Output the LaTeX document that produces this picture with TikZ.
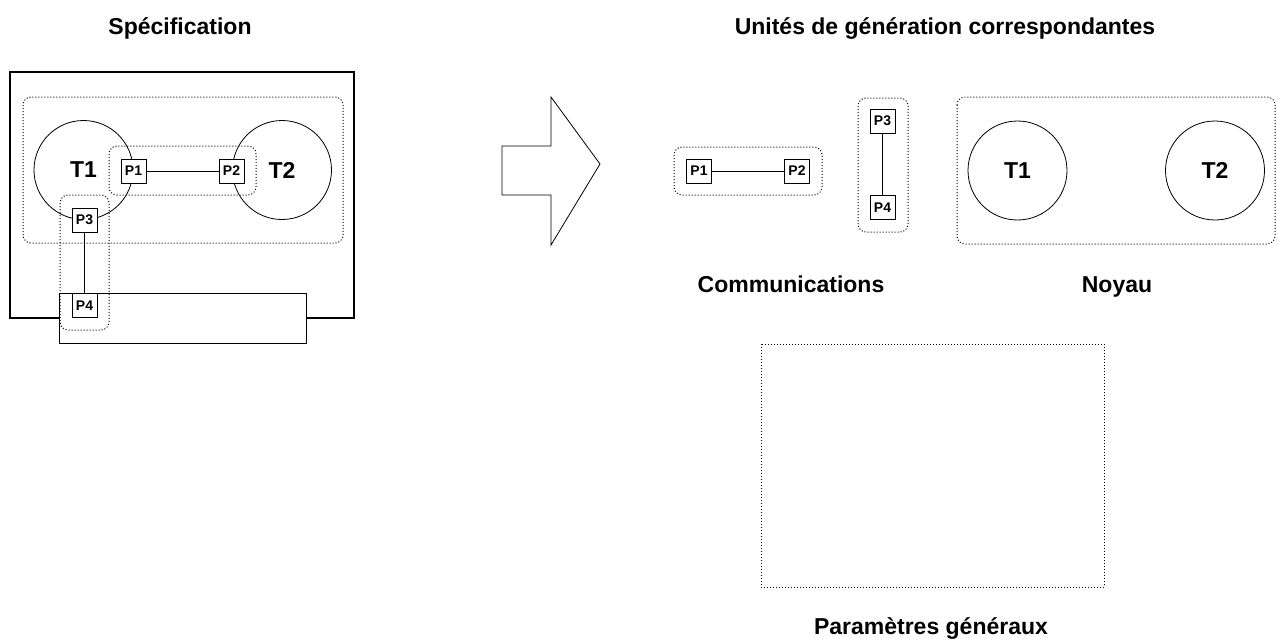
\documentclass[tikz,border=0pt]{standalone}
\usepackage{fontspec}
\setmainfont{Liberation Sans}
\begin{document}
\begin{tikzpicture}[x=1pt,y=-1pt,
  thinline/.style={line width=0.8pt},
  dotbox/.style={draw, line width=1pt, dash pattern=on 1pt off 2pt, rounded corners=8pt},
  port/.style={draw, fill=white, line width=0.8pt, minimum width=25pt, minimum height=24pt, inner sep=0pt, font=\fontsize{14}{14}\selectfont\bfseries},
  task/.style={draw, circle, line width=0.8pt, minimum size=99pt, inner sep=0pt, font=\fontsize{23}{23}\selectfont\bfseries},
  title/.style={font=\fontsize{23}{23}\selectfont\bfseries, inner sep=0pt, anchor=base}]
\useasboundingbox (0,0) rectangle (1278,638);

% ---- Specification (left) ----
\node[title] (tspec) at (180,34) {Spécification};
\draw[line width=2.5pt] (10,72) rectangle (354,318);
\draw[dotbox] (23,97) rectangle (343,243);
\node[task] (lT1) at (83.5,170) {T1};
\node[task] (lT2) at (282,170) {T2};
\draw[dotbox] (109,146) rectangle (256,195);
\node[draw, fill=white, line width=0.8pt, minimum width=247pt, minimum height=50pt, inner sep=0pt] (env) at (182.5,318) {};
\draw[dotbox] (60,195) rectangle (109,330);
\node[port] (lP1) at (133.5,171) {P1};
\node[port] (lP2) at (231.5,171) {P2};
\node[port] (lP3) at (84.5,220) {P3};
\node[port] (lP4) at (84.5,305.5) {P4};
\draw[thinline] (lP1) -- (lP2);
\draw[thinline] (lP3) -- (lP4);

% ---- big arrow ----
\draw[thinline] (502,146) -- (551,146) -- (551,97) -- (600,164) -- (551,245) -- (551,195) -- (502,195) -- cycle;

% ---- Generated units (right) ----
\node[title] (tunits) at (945,34) {Unités de génération correspondantes};

\draw[dotbox] (674,147) rectangle (822,195);
\node[port] (rP1) at (699,171) {P1};
\node[port] (rP2) at (797,171) {P2};
\draw[thinline] (rP1) -- (rP2);

\draw[dotbox] (858,98) rectangle (908,232);
\node[port] (rP3) at (882.5,121) {P3};
\node[port] (rP4) at (882.5,207.5) {P4};
\draw[thinline] (rP3) -- (rP4);

\draw[dotbox] (957,97) rectangle (1275,244);
\node[task] (rT1) at (1017.5,170.5) {T1};
\node[task] (rT2) at (1215,170.5) {T2};

\node[title] (tcomm) at (791,292) {Communications};
\node[title] (tnoyau) at (1117,292) {Noyau};

\draw[dotbox, rounded corners=0pt] (761,344) rectangle (1104,587);
\node[title] (tparam) at (931,634) {Paramètres généraux};
\end{tikzpicture}
\end{document}
